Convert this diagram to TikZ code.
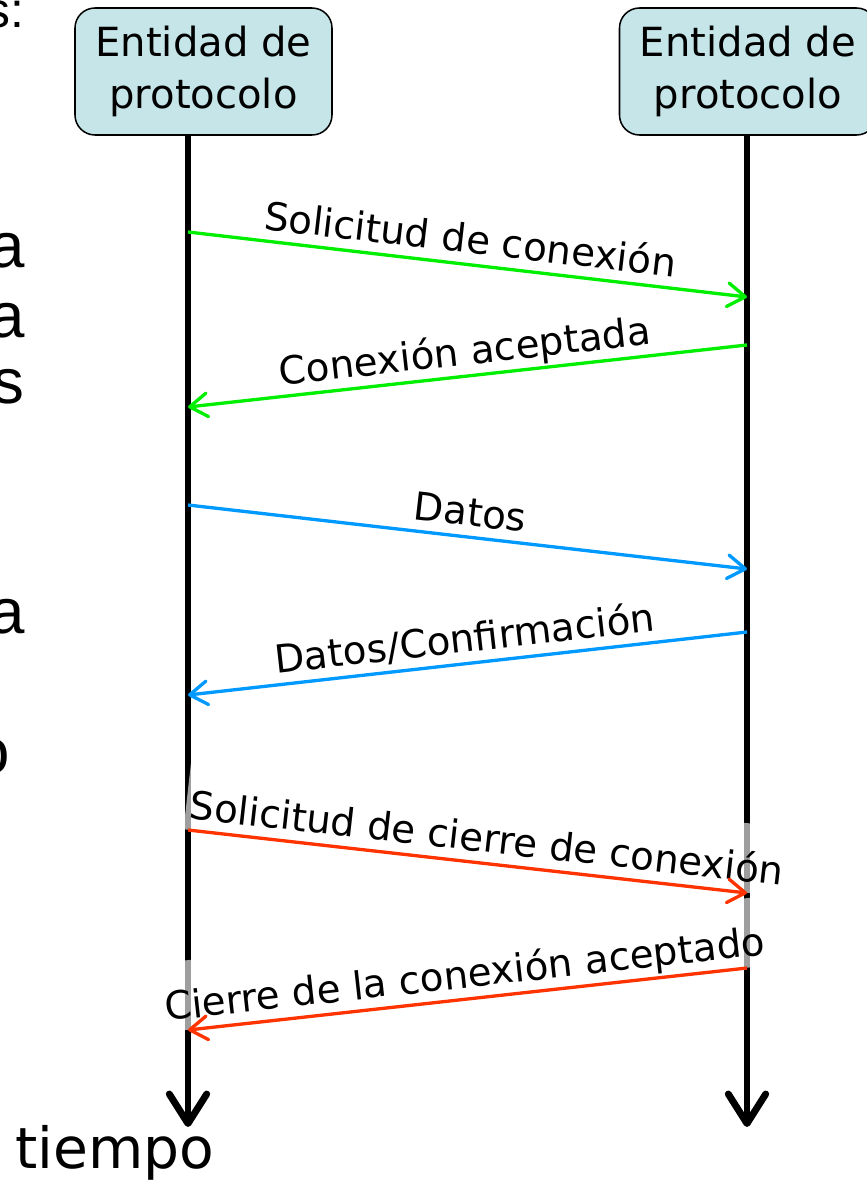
\documentclass[tikz,border=0pt]{standalone}
\usepackage{fontspec}
\setmainfont{DejaVu Sans}
\newfontfamily\diapofont{Liberation Sans}
\usepackage{tikz}
\usetikzlibrary{arrows.meta}
\definecolor{cajaentidad}{RGB}{197,229,232}
\definecolor{verdemsg}{RGB}{0,238,0}
\definecolor{azulmsg}{RGB}{0,153,255}
\definecolor{rojomsg}{RGB}{255,51,0}
\tikzset{>={Straight Barb[length=4.5mm,width=6mm,round]}}
\tikzset{
  entidad/.style={shape=rectangle,rounded corners=0.2in,draw=black,line width=1.1pt,fill=cajaentidad,minimum width=2.57in,minimum height=1.27in,align=center,font=\fontsize{29}{37}\selectfont},
  vida/.style={line width=5pt,-{Straight Barb[length=7.5mm,width=9.5mm,round]}},
  mensaje/.style={line width=2.4pt,->},
  etiqueta/.style={sloped,above=0pt,text=black,fill=white,fill opacity=0.62,text opacity=1,inner xsep=3pt,inner ysep=2pt,text height=40pt,text depth=6pt,font=\fontsize{28}{34}\selectfont},
  fragmento/.style={anchor=base east,inner sep=0pt,font=\diapofont\fontsize{46}{52}\selectfont}
}

\begin{document}
\begin{tikzpicture}

\clip (0in,0in) rectangle (8.67in,-11.82in);

% restos del texto de la diapositiva
\path (0.25in,-0.28in) node (resto1) [fragmento,font=\diapofont\fontsize{36}{40}\selectfont] {s:};
\path (0.25in,-2.67in) node (resto2) [fragmento] {a};
\path (0.25in,-3.37in) node (resto3) [fragmento] {a};
\path (0.25in,-4.03in) node (resto4) [fragmento] {s};
\path (0.25in,-6.33in) node (resto5) [fragmento] {a};
\path (0.10in,-7.73in) node (resto6) [fragmento] {o};

% entidades
\path (2.035in,-0.715in) node (entA) [entidad] {Entidad de\\protocolo};
\path (7.48in,-0.715in) node (entB) [entidad] {Entidad de\\protocolo};

% lineas de tiempo
\coordinate (vidaA) at (1.88in,-1.35in);
\coordinate (finA) at (1.88in,-11.27in);
\coordinate (vidaB) at (7.47in,-1.35in);
\coordinate (finB) at (7.47in,-11.27in);
\draw [vida] (vidaA) -- (finA);
\draw [vida] (vidaB) -- (finB);

\path (0.15in,-11.68in) node (tiempo) [anchor=base west,inner sep=0pt,font=\fontsize{41}{46}\selectfont] {tiempo};

% puntos de los mensajes
\coordinate (a1) at (1.88in,-2.32in);  \coordinate (b1) at (7.47in,-2.97in);
\coordinate (b2) at (7.47in,-3.45in);  \coordinate (a2) at (1.88in,-4.07in);
\coordinate (a3) at (1.88in,-5.05in);  \coordinate (b3) at (7.47in,-5.69in);
\coordinate (b4) at (7.47in,-6.32in);  \coordinate (a4) at (1.88in,-6.95in);
\coordinate (a5) at (1.88in,-8.30in);  \coordinate (b5) at (7.47in,-8.93in);
\coordinate (b6) at (7.47in,-9.68in);  \coordinate (a6) at (1.88in,-10.30in);

% etiquetas (debajo de las flechas)
\path (a1) -- node (txt1) [etiqueta] {Solicitud de conexión} (b1);
\path (b2) -- node (txt2) [etiqueta] {Conexión aceptada} (a2);
\path (a3) -- node (txt3) [etiqueta] {Datos} (b3);
\path (b4) -- node (txt4) [etiqueta] {Datos/Confirmación} (a4);
\path (a5) -- node (txt5) [etiqueta,pos=0.53] {Solicitud de cierre de conexión} (b5);
\path (b6) -- node (txt6) [etiqueta] {Cierre de la conexión aceptado} (a6);

% mensajes
\draw [mensaje,verdemsg] (a1) -- (b1);
\draw [mensaje,verdemsg] (b2) -- (a2);
\draw [mensaje,azulmsg] (a3) -- (b3);
\draw [mensaje,azulmsg] (b4) -- (a4);
\draw [mensaje,rojomsg] (a5) -- (b5);
\draw [mensaje,rojomsg] (b6) -- (a6);

\end{tikzpicture}
\end{document}
